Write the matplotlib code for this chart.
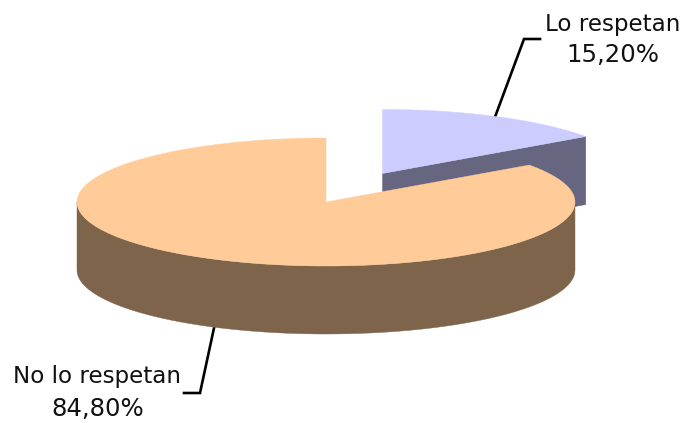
import numpy as np
import matplotlib
matplotlib.use('Agg')
import matplotlib.pyplot as plt
from matplotlib.patches import Polygon

labels = ['Lo respetan', 'No lo respetan']
values = [15.20, 84.80]
pct_labels = ['15,20%', '84,80%']
top_colors = ['#CCCCFF', '#FFCC99']
side_colors = ['#666680', '#7D644B']

rx, ry, depth = 249, 64, 68
centers = [(382.5, 173.5), (326, 202)]


def rim(c, a0, a1, n=300):
    # angles in degrees, clockwise from the top of the ellipse
    t = np.radians(np.linspace(a0, a1, n))
    return np.column_stack([c[0] + rx*np.sin(t), c[1] - ry*np.cos(t)])


def draw_slice(ax, c, a0, a1, top, side, z):
    # outer wall, only the part that faces the viewer
    lo, hi = max(a0, 90), min(a1, 270)
    if hi > lo:
        r = rim(c, lo, hi)
        wall = np.vstack([r, (r + [0, depth])[::-1]])
        ax.add_patch(Polygon(wall, closed=True, fc=side, ec=side, lw=0.3, zorder=z))
    # cut face on the far side of the slice
    if a1 < 90:
        p = rim(c, a1, a1, 1)[0]
        face = [c, p, (p[0], p[1]+depth), (c[0], c[1]+depth)]
        ax.add_patch(Polygon(face, closed=True, fc=side, ec=side, lw=0.3, zorder=z))
    pts = np.vstack([[c], rim(c, a0, a1)])
    ax.add_patch(Polygon(pts, closed=True, fc=top, ec=top, lw=0.3, zorder=z+0.5))


fig = plt.figure(figsize=(6.83, 4.23), dpi=100)
ax = fig.add_axes([0, 0, 1, 1])
ax.set_xlim(0, 683)
ax.set_ylim(423, 0)
ax.axis('off')

# leader lines go under the pie
ax.plot([495, 524, 540], [117, 39, 39], color='black', lw=1.9, zorder=1, solid_joinstyle='miter')
ax.plot([214, 200, 184], [328, 393, 393], color='black', lw=1.9, zorder=1, solid_joinstyle='miter')

angles = np.concatenate([[0], np.cumsum(values) * 3.6])
draw_slice(ax, centers[0], angles[0], angles[1], top_colors[0], side_colors[0], 2)
draw_slice(ax, centers[1], angles[1], angles[2], top_colors[1], side_colors[1], 4)

txt = dict(ha='center', va='center', color='#111111', family='DejaVu Sans')
ax.text(612.5, 24, labels[0], fontsize=16.6, **txt)
ax.text(613, 55, pct_labels[0], fontsize=17.6, **txt)
ax.text(97, 377, labels[1], fontsize=16.6, **txt)
ax.text(97.5, 409, pct_labels[1], fontsize=17.6, **txt)

fig.savefig('out.png', dpi=100)
